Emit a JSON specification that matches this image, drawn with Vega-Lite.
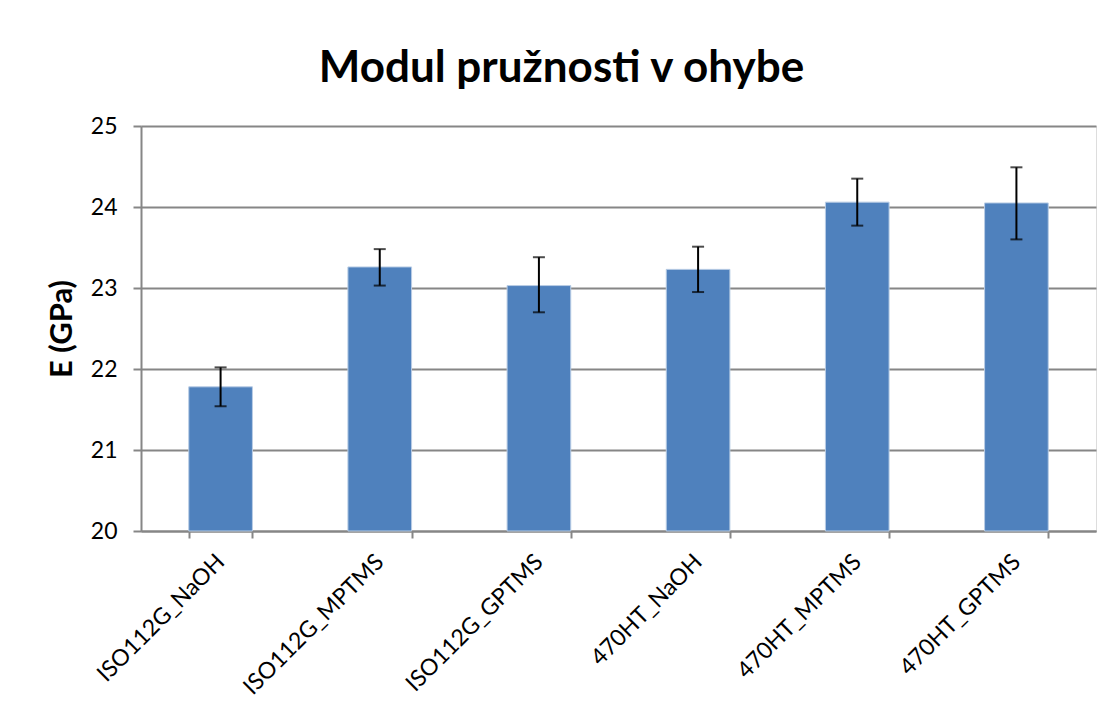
{
  "$schema": "https://vega.github.io/schema/vega-lite/v6.json",
  "width": 955,
  "height": 405,
  "autosize": {"type": "none"},
  "padding": {"left": 141, "top": 126, "right": 18, "bottom": 187},
  "background": "white",
  "title": {
    "text": "Modul pružnosti v ohybe",
    "font": "Lato",
    "fontSize": 44,
    "fontWeight": "bold",
    "color": "black",
    "anchor": "middle",
    "dx": -57,
    "offset": 24
  },
  "data": {
    "values": [
      {"vzorek": "ISO112G_NaOH", "E": 21.78, "lo": 21.54, "hi": 22.02},
      {"vzorek": "ISO112G_MPTMS", "E": 23.26, "lo": 23.03, "hi": 23.48},
      {"vzorek": "ISO112G_GPTMS", "E": 23.03, "lo": 22.70, "hi": 23.38},
      {"vzorek": "470HT_NaOH", "E": 23.23, "lo": 22.95, "hi": 23.51},
      {"vzorek": "470HT_MPTMS", "E": 24.06, "lo": 23.77, "hi": 24.35},
      {"vzorek": "470HT_GPTMS", "E": 24.05, "lo": 23.60, "hi": 24.49}
    ]
  },
  "encoding": {
    "x": {
      "field": "vzorek",
      "type": "nominal",
      "sort": null,
      "scale": {"paddingInner": 0.6, "paddingOuter": 0.3},
      "axis": {
        "title": null,
        "labelAngle": -45,
        "labelAlign": "right",
        "labelBaseline": "middle",
        "labelFont": "Lato",
        "labelFontSize": 23,
        "labelColor": "black",
        "labelPadding": 20,
        "labelLimit": 400,
        "tickBand": "extent",
        "tickSize": 7,
        "tickColor": "#868686",
        "tickWidth": 2,
        "domainColor": "#868686",
        "domainWidth": 2,
        "grid": false
      }
    }
  },
  "layer": [
    {
      "mark": {"type": "bar", "color": "#4F81BD", "stroke": "#B9CDE5", "strokeWidth": 1},
      "encoding": {
        "y": {
          "field": "E",
          "type": "quantitative",
          "scale": {"domain": [20, 25], "zero": false, "nice": false},
          "axis": {
            "title": "E (GPa)",
            "titleFont": "Lato",
            "titleFontSize": 31,
            "titleFontWeight": "bold",
            "titleColor": "black",
            "titlePadding": 12,
            "values": [20, 21, 22, 23, 24, 25],
            "format": "d",
            "labelFont": "Lato",
            "labelFontSize": 23,
            "labelColor": "black",
            "labelPadding": 16,
            "tickSize": 8,
            "tickColor": "#868686",
            "tickWidth": 2,
            "domainColor": "#868686",
            "domainWidth": 2,
            "grid": true,
            "gridColor": "#868686",
            "gridWidth": 2
          }
        },
        "y2": {"datum": 20}
      }
    },
    {
      "mark": {"type": "rule", "color": "black", "strokeWidth": 2},
      "encoding": {
        "y": {"field": "lo", "type": "quantitative"},
        "y2": {"field": "hi"}
      }
    },
    {
      "mark": {"type": "tick", "color": "black", "size": 12, "thickness": 2},
      "encoding": {"y": {"field": "lo", "type": "quantitative"}}
    },
    {
      "mark": {"type": "tick", "color": "black", "size": 12, "thickness": 2},
      "encoding": {"y": {"field": "hi", "type": "quantitative"}}
    }
  ]
}
